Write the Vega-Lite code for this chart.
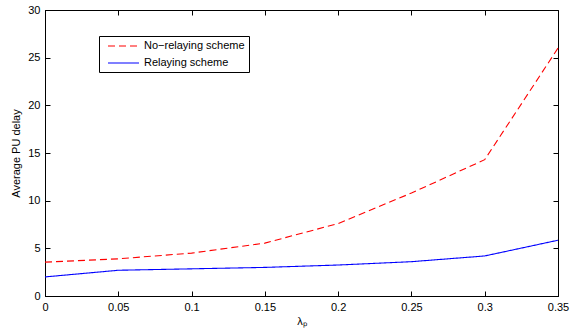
{
  "$schema": "https://vega.github.io/schema/vega-lite/v6.json",
  "width": 513,
  "height": 286,
  "autosize": "none",
  "padding": {"left": 45, "top": 10, "right": 17, "bottom": 35},
  "background": "white",
  "config": {
    "font": "Liberation Sans",
    "view": {"stroke": "black", "strokeWidth": 1},
    "axis": {
      "labelFont": "Liberation Sans",
      "labelFontSize": 11,
      "labelColor": "black",
      "titleFont": "Liberation Sans",
      "titleFontSize": 11,
      "titleFontWeight": "normal",
      "titleColor": "black",
      "domainColor": "black",
      "tickColor": "black",
      "tickSize": -5,
      "grid": false
    }
  },
  "data": {
    "values": [
      {"x": 0, "y": 3.55, "s": "No−relaying scheme"},
      {"x": 0.05, "y": 3.9, "s": "No−relaying scheme"},
      {"x": 0.1, "y": 4.5, "s": "No−relaying scheme"},
      {"x": 0.15, "y": 5.55, "s": "No−relaying scheme"},
      {"x": 0.2, "y": 7.6, "s": "No−relaying scheme"},
      {"x": 0.25, "y": 10.8, "s": "No−relaying scheme"},
      {"x": 0.3, "y": 14.3, "s": "No−relaying scheme"},
      {"x": 0.35, "y": 26.0, "s": "No−relaying scheme"},
      {"x": 0, "y": 2.0, "s": "Relaying scheme"},
      {"x": 0.05, "y": 2.7, "s": "Relaying scheme"},
      {"x": 0.1, "y": 2.85, "s": "Relaying scheme"},
      {"x": 0.15, "y": 3.0, "s": "Relaying scheme"},
      {"x": 0.2, "y": 3.25, "s": "Relaying scheme"},
      {"x": 0.25, "y": 3.6, "s": "Relaying scheme"},
      {"x": 0.3, "y": 4.2, "s": "Relaying scheme"},
      {"x": 0.35, "y": 5.85, "s": "Relaying scheme"}
    ]
  },
  "layer": [
    {
      "mark": {"type": "line", "strokeWidth": 1.1},
      "encoding": {
        "x": {
          "field": "x", "type": "quantitative",
          "scale": {"domain": [0, 0.35], "nice": false, "zero": false},
          "axis": {"values": [0, 0.05, 0.1, 0.15, 0.2, 0.25, 0.3, 0.35], "format": "~g", "title": "λₚ", "labelPadding": 10, "titlePadding": 3, "labelFlush": false}
        },
        "y": {
          "field": "y", "type": "quantitative",
          "scale": {"domain": [0, 30], "nice": false},
          "axis": {"values": [0, 5, 10, 15, 20, 25, 30], "format": "~g", "title": "Average PU delay", "labelPadding": 10, "titlePadding": 6, "labelFlush": false}
        },
        "color": {
          "field": "s", "type": "nominal",
          "scale": {"domain": ["No−relaying scheme", "Relaying scheme"], "range": ["#ff0000", "#0000ff"]},
          "legend": {
            "title": null,
            "orient": "none",
            "legendX": 54,
            "legendY": 26,
            "strokeColor": "black",
            "fillColor": "white",
            "padding": 4,
            "symbolType": "M-0.2,0H6",
            "symbolSize": 100,
            "symbolStrokeWidth": 1.1,
            "labelFont": "Liberation Sans",
            "labelFontSize": 11,
            "labelColor": "black",
            "rowPadding": 6,
            "labelOffset": 29
          }
        },
        "strokeDash": {
          "field": "s", "type": "nominal",
          "scale": {"domain": ["No−relaying scheme", "Relaying scheme"], "range": [[7, 4], [1, 0]]},
          "legend": null
        }
      }
    },
    {
      "mark": {"type": "point", "opacity": 0},
      "encoding": {
        "x": {"field": "x", "type": "quantitative", "axis": {"orient": "top", "values": [0, 0.05, 0.1, 0.15, 0.2, 0.25, 0.3, 0.35], "labels": false, "title": null, "domain": false}},
        "y": {"field": "y", "type": "quantitative", "axis": {"orient": "right", "values": [0, 5, 10, 15, 20, 25, 30], "labels": false, "title": null, "domain": false}}
      }
    }
  ],
  "resolve": {"axis": {"x": "independent", "y": "independent"}}
}
